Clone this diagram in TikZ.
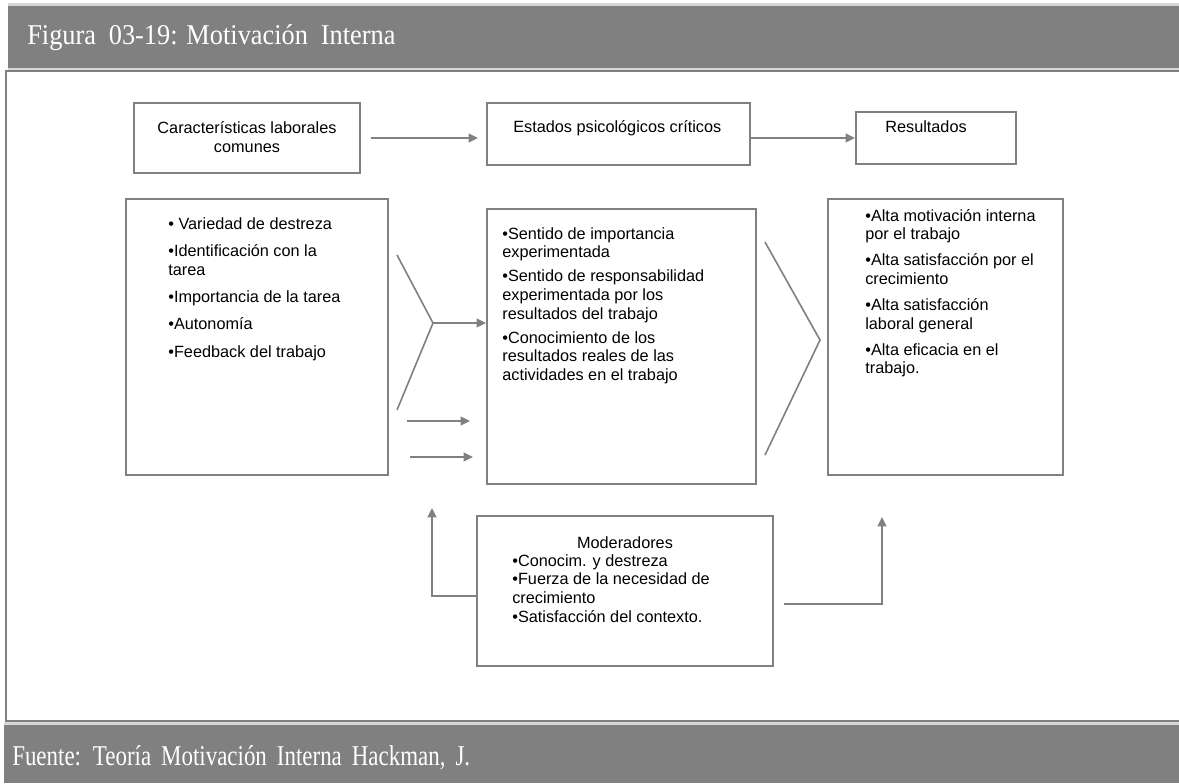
\documentclass[tikz,border=0pt]{standalone}
\usepackage{fontspec}
\setmainfont{Liberation Serif}
\newfontfamily\arialfont{Liberation Sans}
\usetikzlibrary{arrows.meta,calc,fit}

\definecolor{bandgray}{RGB}{128,128,128}
\definecolor{linegray}{RGB}{128,128,128}
\definecolor{rimgray}{RGB}{215,215,215}

\begin{document}
\begin{tikzpicture}[x=0.75pt,y=-0.75pt,
  boxframe/.style={draw=linegray,line width=1.4pt,inner sep=0pt,fill=white},
  bodytext/.style={inner sep=0pt,align=left,text=black,
    font=\arialfont\fontsize{12.2}{14}\selectfont},
  headtext/.style={inner sep=0pt,text=white,font=\fontsize{21.5}{25}\selectfont},
  arr/.style={draw=linegray,line width=1.4pt,-{Triangle[length=7pt,width=6.5pt]}},
  chev/.style={draw=linegray,line width=1.2pt}]

\useasboundingbox (0,0) rectangle (1179,783);

% title band, frame and source band
\fill[rimgray] (8,3) rectangle (1179,70);
\fill[bandgray] (8,6) rectangle (1179,68);
\draw[linegray,line width=1.5pt,fill=white] (6,71) rectangle (1190,721);
\fill[rimgray] (4,722) rectangle (1179,783);
\fill[bandgray] (4,725) rectangle (1179,783);

\node[headtext,anchor=base west] (title) at (27,44)
  {\scalebox{0.92}[1]{Figura\hspace{5pt} 03-19: Motivación\hspace{5pt} Interna}};
\node[headtext,anchor=base west] (source) at (12,765)
  {\scalebox{0.80}[1]{Fuente:\hspace{4pt} Teoría\hspace{4pt} Motivación\hspace{4pt} Interna\hspace{4pt} Hackman,\hspace{4pt} J.}};

% header boxes
\node[boxframe,fit={(134,103) (360,173)}] (A) {};
\node[bodytext,align=center] (Atxt) at (247,137)
  {Características laborales\\comunes};
\node[boxframe,fit={(487,103) (750,165)}] (B) {};
\node[bodytext,anchor=north west] (Btxt) at ($(B.north west)+(27,18)$)
  {Estados psicológicos críticos};
\node[boxframe,fit={(856,112) (1016,164)}] (C) {};
\node[bodytext,anchor=north west] (Ctxt) at ($(C.north west)+(30,9)$)
  {Resultados};

\draw[arr] ($(A.east)+(10,0)$) -- ($(A.east -| B.west)+(-8,0)$);
\draw[arr] (B.east |- C.west) -- (C.west);

% main boxes
\node[boxframe,fit={(126,199) (388,475)}] (D) {};
\node[bodytext,anchor=north west] (Dtxt) at ($(D.north west)+(43,19)$)
  {• Variedad de destreza\\[6.5pt]
   •Identificación con la\\tarea\\[6.5pt]
   •Importancia de la tarea\\[6.5pt]
   •Autonomía\\[6.5pt]
   •Feedback del trabajo};

\node[boxframe,fit={(487,209) (756,484)}] (E) {};
\node[bodytext,anchor=north west] (Etxt) at ($(E.north west)+(16,19)$)
  {•Sentido de importancia\\experimentada\\[4pt]
   •Sentido de responsabilidad\\experimentada por los\\resultados del trabajo\\[4pt]
   •Conocimiento de los\\resultados reales de las\\actividades en el trabajo};

\node[boxframe,fit={(828,199) (1063,475)}] (F) {};
\node[bodytext,anchor=north west] (Ftxt) at ($(F.north west)+(38,11)$)
  {•Alta motivación interna\\por el trabajo\\[5.5pt]
   •Alta satisfacción por el\\crecimiento\\[5.5pt]
   •Alta satisfacción\\laboral general\\[5.5pt]
   •Alta eficacia en el\\trabajo.};

% moderators
\node[boxframe,fit={(477,516) (773,666)}] (G) {};
\node[bodytext,anchor=north] (Ghead) at ($(G.north)+(0,21)$) {Moderadores};
\node[bodytext,anchor=north west] (Gtxt) at ($(G.north west)+(36,39)$)
  {•Conocim. y destreza\\
   •Fuerza de la necesidad de\\crecimiento\\
   •Satisfacción del contexto.};

% converging lines into the middle box
\coordinate (lt) at (397,255);
\coordinate (lm) at (433,323);
\coordinate (lb) at (397,410);
\draw[chev] (lt) -- (lm) -- (lb);
\draw[arr] (lm) -- (lm -| E.west);

\coordinate (s1) at (407,421);
\coordinate (s2) at (410,457);
\draw[arr] (s1) -- ($(s1 -| E.west)+(-16,0)$);
\draw[arr] (s2) -- ($(s2 -| E.west)+(-13,0)$);

% converging lines into the results box
\coordinate (rt) at (765,242);
\coordinate (rm) at (820,340);
\coordinate (rb) at (765,455);
\draw[chev] (rt) -- (rm) -- (rb);

% moderator feedback paths
\coordinate (fl) at (432,508);
\coordinate (fr) at (882,517);
\draw[arr] (G.west |- 0,596) -| (fl);
\draw[arr] ($(G.east |- 0,604)+(10,0)$) -| (fr);
\end{tikzpicture}
\end{document}
